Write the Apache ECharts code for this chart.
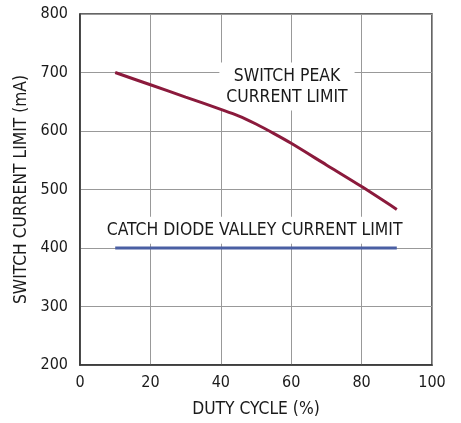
<!DOCTYPE html>
<html><head><meta charset="utf-8">
<script src="https://cdn.jsdelivr.net/npm/echarts@6/dist/echarts.min.js"></script>
<style>html,body{margin:0;padding:0;background:#fff}#c{width:461px;height:423px}</style>
</head><body><div id="c"></div>
<script>
const dutyCycle = [10, 20, 30, 40, 45, 50, 55, 60, 70, 80, 90];
const peakLimit = [700, 679, 658, 637, 626, 612, 596, 579, 542, 505, 466];
const valleyDuty = [10, 90];
const valleyLimit = [400, 400];
const xTicks = [0, 20, 40, 60, 80, 100];
const yTicks = [200, 300, 400, 500, 600, 700, 800];
const peakLabel = 'SWITCH PEAK\nCURRENT LIMIT';
const peakLabelAt = [58.8, 676];
const valleyLabel = 'CATCH DIODE VALLEY CURRENT LIMIT';
const valleyLabelAt = [49.6, 430.5];
const xTitle = 'DUTY CYCLE (%)';
const yTitle = 'SWITCH CURRENT LIMIT (mA)';

const FONT = '"DejaVu Sans Condensed", "Liberation Sans", sans-serif';
const TXT = '#1a1a1a';
const chart = echarts.init(document.getElementById('c'), null, {renderer: 'canvas'});
chart.setOption({
  animation: false,
  grid: {left: 80, top: 14, right: 29, bottom: 58, show: true, borderColor: '#333', borderWidth: 1.5, backgroundColor: 'transparent'},
  xAxis: {
    type: 'value', min: xTicks[0], max: xTicks[xTicks.length - 1], interval: 20,
    name: xTitle, nameLocation: 'middle', nameGap: 36,
    nameTextStyle: {fontFamily: FONT, fontSize: 17.3, color: TXT},
    axisLine: {show: true, lineStyle: {color: '#333', width: 1.5}},
    axisTick: {show: false},
    axisLabel: {fontFamily: FONT, fontSize: 16, color: TXT, margin: 10},
    splitLine: {show: true, lineStyle: {color: '#999', width: 1}}
  },
  yAxis: {
    type: 'value', min: yTicks[0], max: yTicks[yTicks.length - 1], interval: 100,
    name: yTitle, nameLocation: 'middle', nameGap: 48,
    nameTextStyle: {fontFamily: FONT, fontSize: 17.3, color: TXT},
    axisLine: {show: true, lineStyle: {color: '#333', width: 1.5}},
    axisTick: {show: false},
    axisLabel: {fontFamily: FONT, fontSize: 16, color: TXT, margin: 12},
    splitLine: {show: true, lineStyle: {color: '#999', width: 1}}
  },
  series: [
    {
      type: 'scatter', symbolSize: 0, z: 1, silent: true,
      itemStyle: {opacity: 1},
      data: [
        {value: peakLabelAt, label: {formatter: peakLabel, padding: [3, 7, 3, 7]}},
        {value: valleyLabelAt, label: {formatter: valleyLabel, padding: [3, 4, 3, 4]}}
      ],
      label: {show: true, position: 'inside', fontFamily: FONT, fontSize: 17.4, lineHeight: 21,
        color: TXT, backgroundColor: '#fff', align: 'center', verticalAlign: 'middle'}
    },
    {
      type: 'line', smooth: 0.3, symbol: 'none',
      data: dutyCycle.map((d, i) => [d, peakLimit[i]]),
      lineStyle: {color: '#8b1a3c', width: 3},
      z: 3
    },
    {
      type: 'line', symbol: 'none',
      data: valleyDuty.map((d, i) => [d, valleyLimit[i]]),
      lineStyle: {color: '#4a5fa3', width: 3},
      z: 3
    }
  ]
});
</script></body></html>
